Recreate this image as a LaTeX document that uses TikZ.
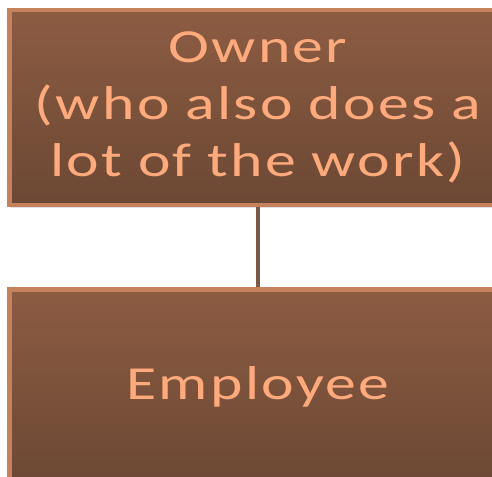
\documentclass[tikz,border=0pt]{standalone}
\usepackage{fontspec}
\newfontfamily\orgfont[FakeStretch=1.3,LetterSpace=5,WordSpace=1.4]{Carlito}
\usetikzlibrary{positioning,shadows}

\definecolor{boxtop}{HTML}{8C5C42}
\definecolor{boxbottom}{HTML}{6C4834}
\definecolor{boxedge}{HTML}{C4815C}
\definecolor{boxtext}{HTML}{FFAA7C}
\definecolor{linkline}{HTML}{7A5848}

\begin{document}
\begin{tikzpicture}[x=0.02cm,y=-0.02cm,
  orgbox/.style={rectangle, draw=boxedge, line width=2.5pt, top color=boxtop, bottom color=boxbottom,
    drop shadow={opacity=0.25, shadow xshift=0.5pt, shadow yshift=-1.5pt},
    minimum width=9.8cm, minimum height=3.9cm, text width=9.7cm, align=center, text=boxtext,
    font=\orgfont\fontsize{27}{32.3}\selectfont}]

\useasboundingbox (0,0) rectangle (492,476);

% Draw the boxes
\node[orgbox] (owner) at (258,107.5) {Owner\\(who also does a\\lot of the work)};
\node[orgbox, below=1.6cm of owner] (employee) {Employee};

% Draw the link
\draw[linkline, line width=2pt] (owner) -- (employee);

\end{tikzpicture}
\end{document}
